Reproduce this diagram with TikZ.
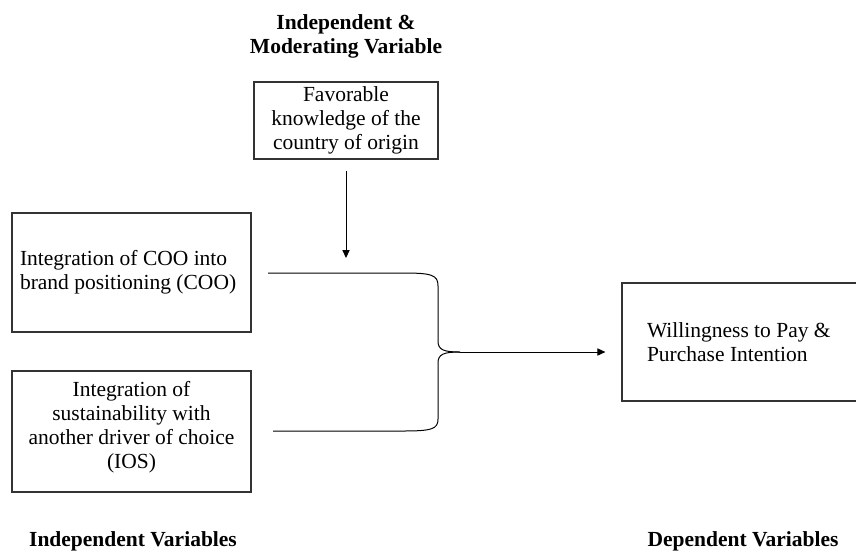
\documentclass[tikz,border=0pt]{standalone}
\usepackage{fontspec}
\setmainfont{Liberation Serif}
\usetikzlibrary{arrows.meta}

\tikzset{
  varbox/.style={draw=black!80,line width=0.6pt,inner sep=0pt},
  heading/.style={font=\bfseries,align=center,inner sep=0pt},
  link/.style={black,line width=0.5pt},
  tipped/.style={link,-{Triangle[length=4pt,width=3.6pt]}}
}

\begin{document}
\fontsize{10.75}{12}\selectfont
\begin{tikzpicture}[x=0.5pt,y=-0.5pt]
  \useasboundingbox (0,0) rectangle (856,553);
  % headings
  \node[heading] (modhead) at (346,36) {Independent \&\\Moderating Variable};
  \node[heading] (indhead) at (133,541) {Independent Variables};
  \node[heading] (dephead) at (743,541) {Dependent Variables};
  % boxes
  \node[varbox,minimum width=92pt,minimum height=38.5pt,align=center] (know) at (346,120.5)
    {Favorable\\knowledge of the\\country of origin};
  \node[varbox,minimum width=119.5pt,minimum height=59.5pt,align=flush left,text width=111.5pt,inner xsep=4pt] (coo) at (131.5,272.5)
    {Integration of COO into\\brand positioning (COO)};
  \node[varbox,minimum width=119.5pt,minimum height=60.5pt,align=center] (ios) at (131.5,431.5)
    {Integration of\\sustainability with\\another driver of choice\\(IOS)\\[-1ex]};
  \node[varbox,minimum width=150pt,minimum height=59pt,align=flush left,text width=125pt,inner xsep=12.5pt] (wtp) at (772,342)
    {Willingness to Pay \&\\Purchase Intention};
  % brace
  \coordinate (cooend) at (268,273);
  \coordinate (iosend) at (273,431);
  \coordinate (tip) at (460,352);
  \draw[link] (cooend) -- (403,273) .. controls (432,273) and (438,275) .. (438,286)
    -- (438,341) .. controls (438,350) and (444,352) .. (tip);
  \draw[link] (tip) .. controls (444,352) and (438,354) .. (438,363)
    -- (438,419) .. controls (438,429) and (432,431) .. (403,431) -- (iosend);
  % arrows
  \coordinate (modtop) at (346,171);
  \coordinate (modend) at (346,258);
  \draw[tipped] (modtop) -- (modend);
  \draw[tipped] (tip) -- ([xshift=-8pt]tip -| wtp.west);
\end{tikzpicture}
\end{document}
